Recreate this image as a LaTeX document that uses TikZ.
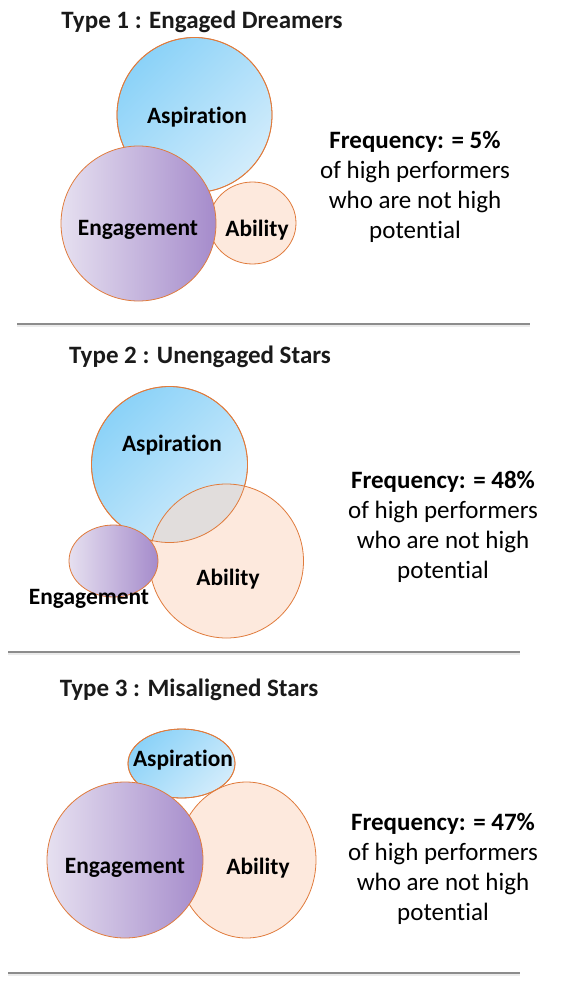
\documentclass[tikz,border=0pt]{standalone}
\usepackage{fontspec}
\setmainfont{Carlito}[Ligatures=NoCommon]
\definecolor{edge}{HTML}{E07B3C}
\definecolor{aspA}{HTML}{8BD2F8}
\definecolor{aspB}{HTML}{D2ECFB}
\definecolor{engA}{HTML}{E6E0F0}
\definecolor{engB}{HTML}{A58BCB}
\definecolor{abl}{HTML}{FDE9DD}
\definecolor{mix}{HTML}{E1DDDC}
\definecolor{sep}{HTML}{8C8C8C}
\definecolor{titlec}{HTML}{1A1A1A}
\tikzset{
  rim/.style={draw=edge, line width=0.8pt},
  aspfill/.style={top color=aspA, bottom color=aspB, shading angle=45},
  engfill/.style={left color=engA, right color=engB},
  ablfill/.style={fill=abl},
  lbl/.style={font=\bfseries\fontsize{23.4}{26}\selectfont, text=black, inner sep=0pt, yshift=-2pt},
  ttl/.style={font=\bfseries\fontsize{25}{28}\selectfont, text=titlec, inner sep=0pt},
  freq/.style={font=\fontsize{25}{30}\selectfont, align=center, inner sep=0pt, text=black},
  sepline/.style={draw=sep, line width=1.1pt},
  sepshadow/.style={draw=black!8, line width=2.5pt}
}
\begin{document}
\begin{tikzpicture}[x=1pt,y=-1pt]
\useasboundingbox (0,0) rectangle (560,984);
% ---------- Panel 1 ----------
\node[ttl] (t1) at (202,22) {Type 1 : Engaged Dreamers};
\shade[aspfill] (194.5,115) circle (77.5);
\draw[rim] (194.5,115) circle (77.5);
\fill[ablfill] (252.5,223) ellipse (43.5 and 41);
\begin{scope}
  \clip (194.5,115) circle (77.5);
  \fill[mix] (252.5,223) ellipse (43.5 and 41);
\end{scope}
\draw[rim] (252.5,223) ellipse (43.5 and 41);
\draw[rim] (194.5,115) circle (77.5);
\shade[engfill] (138.5,223.5) circle (77.5);
\draw[rim] (138.5,223.5) circle (77.5);
\node[lbl] (a1) at (197,115) {Aspiration};
\node[lbl] (e1) at (138,228) {Engagement};
\node[lbl] (b1) at (257,228) {Ability};
\node[freq] (f1) at (415,187) {\textbf{Frequency: = 5\%}\\of high performers\\who are not high\\potential};
\coordinate (s1a) at (17,324);
\coordinate (s1b) at (530,324);
\draw[sepshadow] ([yshift=-2pt]s1a) -- ([yshift=-2pt]s1b);
\draw[sepline] (s1a) -- (s1b);
% ---------- Panel 2 ----------
\node[ttl] (t2) at (200,357) {Type 2 : Unengaged Stars};
\shade[aspfill] (169.5,464.5) circle (78);
\draw[rim] (169.5,464.5) circle (78);
\fill[ablfill] (226.5,561) circle (77);
\begin{scope}
  \clip (169.5,464.5) circle (78);
  \fill[mix] (226.5,561) circle (77);
\end{scope}
\draw[rim] (226.5,561) circle (77);
\draw[rim] (169.5,464.5) circle (78);
\shade[engfill] (113.5,561) ellipse (44.5 and 36);
\draw[rim] (113.5,561) ellipse (44.5 and 36);
\node[lbl] (a2) at (172,443) {Aspiration};
\node[lbl] (b2) at (228,577) {Ability};
\node[lbl] (e2) at (89,597) {Engagement};
\node[freq] (f2) at (443,527) {\textbf{Frequency: = 48\%}\\of high performers\\who are not high\\potential};
\coordinate (s2a) at (8,652);
\coordinate (s2b) at (520,652);
\draw[sepshadow] ([yshift=-2pt]s2a) -- ([yshift=-2pt]s2b);
\draw[sepline] (s2a) -- (s2b);
% ---------- Panel 3 ----------
\node[ttl] (t3) at (189,690) {Type 3 : Misaligned Stars};
\shade[aspfill] (181.5,763.5) ellipse (53.5 and 34.5);
\draw[rim] (181.5,763.5) ellipse (53.5 and 34.5);
\fill[ablfill] (246.5,860) ellipse (69.5 and 78);
\begin{scope}
  \clip (181.5,763.5) ellipse (53.5 and 34.5);
  \fill[mix] (246.5,860) ellipse (69.5 and 78);
\end{scope}
\draw[rim] (246.5,860) ellipse (69.5 and 78);
\draw[rim] (181.5,763.5) ellipse (53.5 and 34.5);
\shade[engfill] (125,860) circle (78);
\draw[rim] (125,860) circle (78);
\node[lbl] (a3) at (183,758) {Aspiration};
\node[lbl] (e3) at (125,866) {Engagement};
\node[lbl] (b3) at (258,866) {Ability};
\node[freq] (f3) at (443,869) {\textbf{Frequency: = 47\%}\\of high performers\\who are not high\\potential};
\coordinate (s3a) at (8,973);
\coordinate (s3b) at (520,973);
\draw[sepshadow] ([yshift=-2pt]s3a) -- ([yshift=-2pt]s3b);
\draw[sepline] (s3a) -- (s3b);
\end{tikzpicture}
\end{document}
